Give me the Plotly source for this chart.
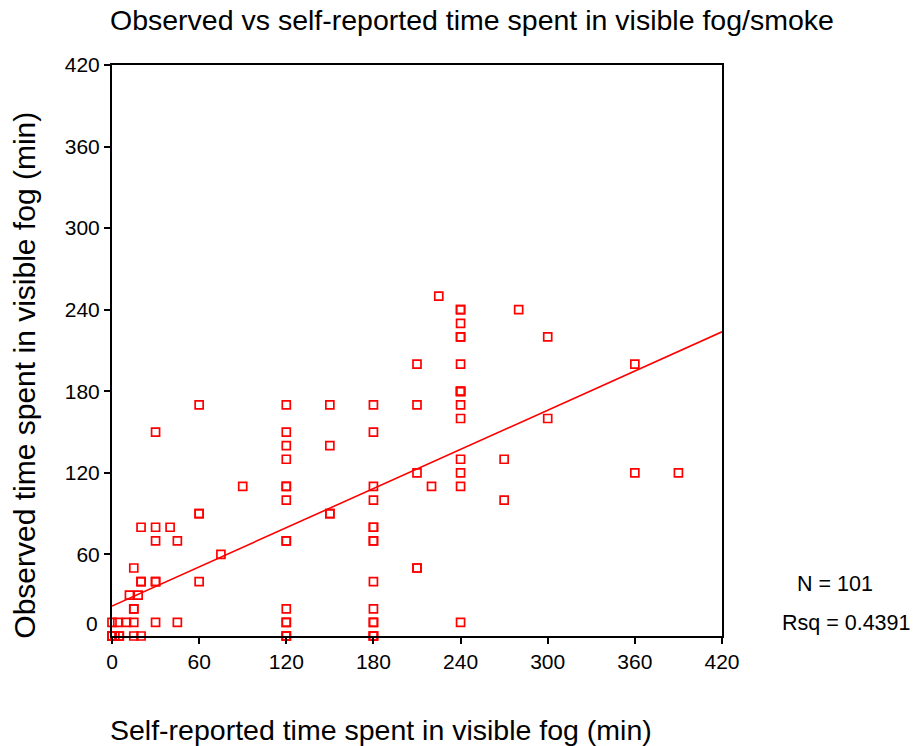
import numpy as np
import plotly.graph_objects as go

# Self-reported (x) and observed (y) minutes in visible fog/smoke
self_reported = [
    30, 60, 60, 60, 20, 30, 40, 30, 45, 15,
    20, 20, 30, 60, 12, 18, 15, 15, 0, 4,
    10, 15, 30, 45, 0, 0, 0, 2, 5, 15,
    20, 75, 90,
    120, 120, 120, 120, 120, 120, 120, 120, 120, 120, 120,
    150, 150, 150, 150,
    180, 180, 180, 180, 180, 180, 180, 180, 180, 180, 180, 180,
    210, 210, 210, 210, 210, 220, 225,
    240, 240, 240, 240, 240, 240, 240, 240, 240, 240, 240, 240, 240, 240,
    270, 270, 280, 300, 300, 360, 360, 390,
    0, 0, 5, 120, 120, 180, 180, 120, 180, 120, 240, 30,
]
observed = [
    150, 170, 90, 90, 80, 80, 80, 70, 70, 50,
    40, 40, 40, 40, 30, 30, 20, 20, 10, 10,
    10, 10, 10, 10, 0, 0, 0, 0, 0, 0,
    0, 60, 110,
    170, 150, 140, 130, 110, 100, 70, 70, 20, 10, 0,
    170, 140, 90, 90,
    170, 150, 110, 100, 80, 80, 70, 70, 40, 20, 10, 0,
    200, 170, 120, 50, 50, 110, 250,
    240, 240, 230, 220, 220, 200, 180, 180, 170, 160, 130, 120, 110, 10,
    130, 100, 240, 220, 160, 200, 120, 120,
    0, 0, 0, 0, 0, 0, 10, 10, 0, 110, 180, 40,
]

tick_vals = [0, 60, 120, 180, 240, 300, 360, 420]
x_ticks = [str(v) for v in tick_vals]
y_tick_vals = [60, 120, 180, 240, 300, 360, 420]
y_ticks = [str(v) for v in y_tick_vals]

title_text = "Observed vs self-reported time spent in visible fog/smoke"
x_title = "Self-reported time spent in visible fog (min)"
y_title = "Observed time spent in visible fog (min)"
n_text = "N = 101"
rsq_text = "Rsq = 0.4391"

x = np.array(self_reported, dtype=float)
y = np.array(observed, dtype=float)
slope, intercept = np.polyfit(x, y, 1)
fit_x = np.array([0, 420])
fit_y = intercept + slope * fit_x

RED = "#ff0000"
FONT = "Liberation Sans, Arial, sans-serif"

fig = go.Figure()
fig.add_trace(go.Scatter(
    x=fit_x, y=fit_y, mode="lines",
    line=dict(color=RED, width=1.6), cliponaxis=False, hoverinfo="skip",
))
fig.add_trace(go.Scatter(
    x=x, y=y, mode="markers", cliponaxis=False,
    marker=dict(symbol="square-open", size=8, color=RED, line=dict(color=RED, width=1.7)),
))

axis_common = dict(
    showgrid=False, zeroline=False, showline=True, linecolor="black", linewidth=2,
    mirror=True, ticks="outside", ticklen=6, tickwidth=1.5, tickcolor="black",
    tickfont=dict(family=FONT, size=21, color="black"),
)
fig.update_xaxes(range=[0, 420], tickvals=tick_vals, ticktext=x_ticks, **axis_common)
fig.update_yaxes(range=[0, 420], tickvals=y_tick_vals, ticktext=y_ticks, **axis_common)

annotations = [
    dict(text=title_text, x=-0.007, y=1.079, xref="paper", yref="paper", xanchor="left", yanchor="middle",
         showarrow=False, font=dict(family=FONT, size=28.5, color="black")),
    dict(text=x_title, x=-0.007, y=-0.165, xref="paper", yref="paper", xanchor="left", yanchor="middle",
         showarrow=False, font=dict(family=FONT, size=28.5, color="black")),
    dict(text=y_title, x=-0.1426, y=-0.009, xref="paper", yref="paper", xanchor="center", yanchor="bottom",
         textangle=-90, showarrow=False, font=dict(family=FONT, size=30, color="black")),
    dict(text="0", x=-0.02, y=9, xref="paper", yref="y", xanchor="right", yanchor="middle",
         showarrow=False, font=dict(family=FONT, size=21, color="black")),
    dict(text=n_text, x=(835 - 112) / 610, y=0.091, xref="paper", yref="paper", xanchor="center", yanchor="middle",
         showarrow=False, font=dict(family=FONT, size=21.5, color="black")),
    dict(text=rsq_text, x=(846 - 112) / 610, y=0.0228, xref="paper", yref="paper", xanchor="center", yanchor="middle",
         showarrow=False, font=dict(family=FONT, size=21.5, color="black")),
]

fig.update_layout(
    width=915, height=746,
    margin=dict(l=112, r=193, t=65, b=110),
    paper_bgcolor="white", plot_bgcolor="white",
    showlegend=False,
    annotations=annotations,
)

fig.write_html("out.html")
